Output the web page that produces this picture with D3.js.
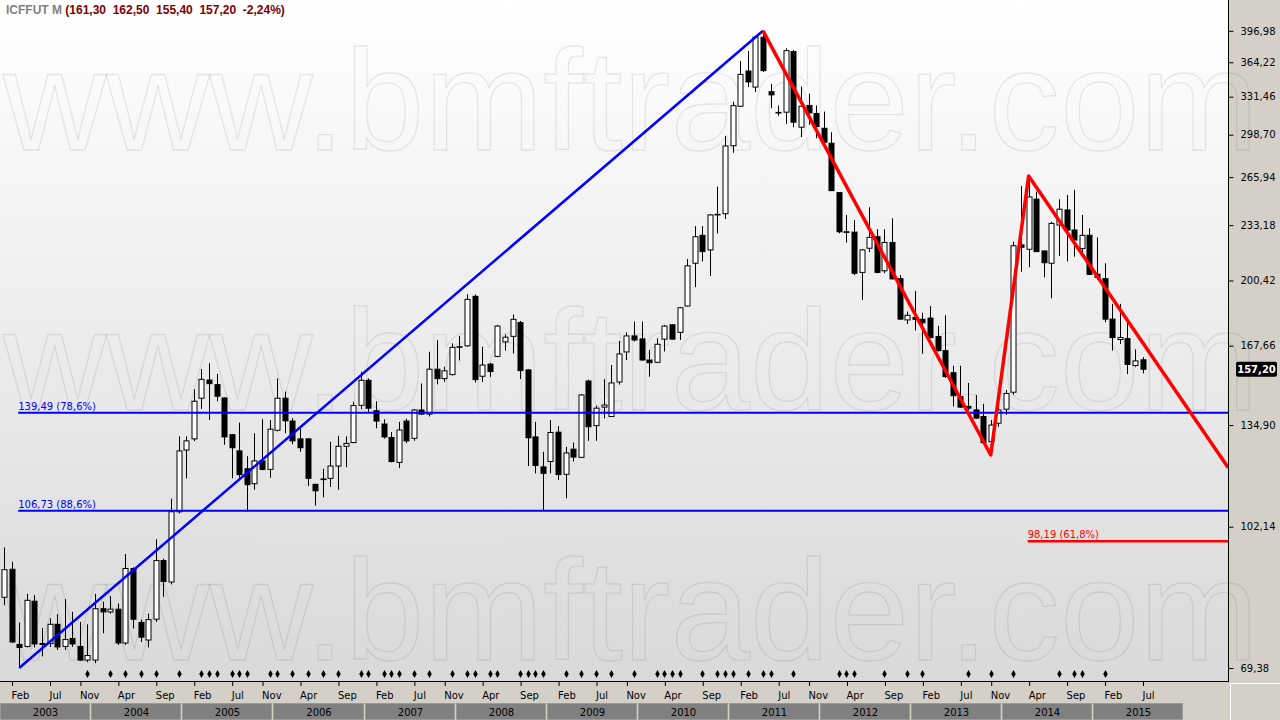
<!DOCTYPE html>
<html><head><meta charset="utf-8">
<script src="https://cdn.jsdelivr.net/npm/d3@7"></script>
<style>html,body{margin:0;padding:0;background:#d4d0c8;overflow:hidden}svg{display:block}</style>
</head><body><svg id="c" width="1280" height="720"></svg>
<script>
// ---- data (monthly bars, index 0 = Jan 2003) ----
const openV = [
 84.2, 90.9, 74.0, 73.6, 83.3, 74.0, 74.2, 78.2, 73.6, 75.2,
 73.6, 70.9, 70.9, 81.6, 80.9, 81.5, 74.3, 91.1, 78.6, 74.9,
 79.3, 93.1, 87.8, 106.4, 126.0, 129.9, 145.2, 152.6, 150.7, 145.3,
 131.4, 125.7, 119.7, 114.9, 122.3, 119.5, 133.0, 145.2, 136.4, 129.9,
 129.9, 114.7, 116.2, 116.6, 120.6, 127.3, 128.6, 142.4, 152.5, 140.3,
 135.3, 130.4, 121.8, 136.4, 130.1, 140.6, 139.0, 157.2, 153.2, 154.9,
 166.9, 167.6, 191.9, 154.2, 159.4, 162.8, 169.4, 172.0, 178.6, 156.9,
 130.6, 120.3, 122.1, 132.3, 117.9, 126.3, 123.5, 152.2, 134.7, 141.7,
 138.1, 151.8, 164.8, 172.2, 170.8, 161.2, 160.2, 170.7, 177.5, 173.9,
 186.9, 210.1, 226.8, 217.9, 239.8, 240.6, 289.8, 322.9, 355.6, 340.3,
 390.0, 336.0, 317.5, 317.7, 375.0, 304.9, 323.6, 316.6, 304.0, 291.8,
 254.9, 229.0, 228.8, 204.9, 218.9, 225.9, 205.8, 222.4, 201.4, 179.9,
 181.1, 180.2, 180.8, 171.9, 165.4, 155.7, 145.8, 142.0, 140.6, 138.1,
 128.9, 135.6, 140.9, 147.6, 220.9, 218.3, 250.4, 217.3, 210.1, 233.3,
 243.1, 230.1, 218.8, 226.8, 203.9, 201.4, 180.3, 170.5, 170.9, 158.8,
 161.3];
const highV = [
 96.5, 92.8, 78.6, 85.0, 84.7, 77.4, 79.5, 80.4, 83.8, 80.9,
 78.7, 78.2, 85.0, 83.2, 84.5, 82.8, 94.8, 91.4, 79.2, 80.5,
 98.7, 93.6, 110.3, 130.8, 130.8, 148.8, 157.3, 159.8, 155.2, 145.6,
 131.6, 135.8, 123.9, 131.9, 137.1, 136.8, 153.3, 147.9, 137.5, 133.5,
 130.2, 114.9, 119.7, 128.9, 131.0, 130.8, 143.8, 156.1, 153.3, 144.0,
 137.1, 132.4, 136.1, 137.3, 141.0, 151.2, 164.9, 170.3, 158.3, 168.7,
 172.2, 193.0, 192.9, 167.2, 160.0, 177.5, 172.9, 182.6, 179.4, 157.2,
 136.1, 125.4, 136.8, 134.5, 127.1, 128.6, 146.8, 152.8, 142.3, 153.0,
 159.0, 169.8, 173.9, 179.1, 179.1, 165.7, 171.1, 177.5, 177.8, 186.3,
 212.5, 232.6, 232.6, 240.4, 259.2, 297.6, 327.0, 365.5, 375.7, 390.9,
 396.98, 343.3, 323.6, 378.4, 376.7, 340.7, 334.2, 323.6, 318.2, 300.7,
 255.2, 239.8, 236.5, 218.5, 244.9, 230.6, 230.6, 237.6, 203.4, 184.1,
 194.8, 183.5, 186.9, 177.0, 182.2, 158.7, 158.7, 151.4, 146.5, 143.0,
 136.8, 143.3, 148.5, 222.9, 259.6, 266.8, 255.6, 217.5, 235.4, 250.3,
 253.3, 256.8, 239.8, 231.2, 225.5, 210.1, 188.0, 188.0, 178.8, 166.0,
 162.5];
const lowV = [
 82.4, 74.3, 69.38, 73.4, 73.4, 71.6, 73.5, 72.9, 72.9, 73.5,
 70.7, 70.5, 70.3, 76.3, 80.5, 73.9, 73.9, 77.3, 74.5, 73.4,
 78.7, 84.3, 87.2, 105.9, 116.6, 129.1, 141.0, 136.8, 144.0, 127.8,
 116.6, 116.8, 106.4, 113.0, 119.2, 116.8, 132.6, 131.9, 128.0, 125.4,
 114.2, 108.2, 110.7, 113.9, 113.0, 120.2, 128.4, 141.0, 139.7, 133.7,
 130.0, 121.8, 119.9, 128.4, 129.2, 138.8, 138.1, 150.8, 151.9, 154.5,
 161.0, 167.2, 151.6, 151.8, 153.9, 162.5, 165.4, 164.1, 153.0, 120.6,
 118.2, 106.6, 118.2, 116.1, 110.4, 122.1, 123.3, 129.2, 129.2, 137.4,
 138.0, 150.7, 161.2, 169.6, 161.0, 154.0, 159.8, 165.0, 170.5, 170.3,
 186.7, 196.8, 211.1, 202.9, 228.0, 237.1, 284.3, 322.6, 340.3, 335.6,
 354.7, 321.1, 314.6, 307.6, 304.9, 296.7, 306.8, 295.8, 292.0, 256.0,
 228.0, 222.3, 203.4, 190.0, 216.6, 204.4, 204.4, 201.0, 180.0, 177.9,
 174.8, 164.0, 171.1, 165.0, 153.5, 142.0, 141.5, 140.6, 137.2, 128.5,
 124.3, 134.3, 138.8, 146.6, 205.3, 207.8, 216.7, 202.2, 190.9, 214.3,
 211.1, 213.9, 213.9, 203.4, 201.0, 178.8, 165.4, 168.4, 155.1, 158.1,
 155.4];
const closeV = [
 90.8, 74.5, 73.4, 83.5, 74.1, 74.2, 78.2, 73.5, 75.0, 74.1,
 70.9, 71.8, 81.6, 80.9, 81.5, 74.3, 91.1, 79.3, 75.5, 79.2,
 93.1, 87.9, 106.4, 125.7, 129.2, 144.0, 152.9, 151.1, 146.0, 130.6,
 126.8, 117.8, 114.6, 122.3, 119.5, 133.4, 145.2, 136.5, 129.2, 126.8,
 116.6, 112.7, 116.4, 120.6, 127.3, 128.3, 142.3, 152.5, 141.3, 136.4,
 130.6, 122.1, 133.1, 129.2, 140.6, 139.0, 157.2, 153.2, 156.5, 166.9,
 167.2, 190.3, 152.8, 159.0, 156.2, 176.9, 171.6, 180.2, 156.6, 130.3,
 120.8, 118.2, 132.2, 117.8, 125.0, 123.6, 146.5, 134.3, 141.3, 142.5,
 151.4, 163.9, 172.2, 170.3, 161.2, 160.0, 168.3, 176.9, 170.7, 186.0,
 208.6, 225.9, 216.9, 239.8, 240.2, 289.6, 323.4, 352.3, 345.1, 390.2,
 356.0, 333.1, 317.0, 376.0, 309.1, 322.9, 317.1, 305.4, 292.6, 256.3,
 229.0, 228.8, 204.4, 217.9, 225.5, 204.9, 222.4, 201.3, 180.3, 182.2,
 180.2, 178.5, 171.4, 165.4, 154.1, 146.2, 141.7, 141.3, 137.5, 128.6,
 134.9, 140.6, 147.1, 220.4, 219.5, 251.9, 216.9, 210.4, 234.3, 243.6,
 230.1, 223.9, 226.8, 203.8, 202.2, 180.3, 171.4, 171.4, 159.3, 160.8,
 157.2];
const monthTickIdx = [1,6,10,15,20,25,30,34,39,44,49,54,58,63,68,73,78,82,87,92,97,102,106,111,116,121,126,130,135,140,145,150];
const monthTickLabels = ["Feb","Jul","Nov","Apr","Sep","Feb","Jul","Nov","Apr","Sep","Feb","Jul","Nov","Apr","Sep","Feb","Jul","Nov","Apr","Sep","Feb","Jul","Nov","Apr","Sep","Feb","Jul","Nov","Apr","Sep","Feb","Jul"];
const yearLabels = ["2003","2004","2005","2006","2007","2008","2009","2010","2011","2012","2013","2014","2015"];
const yTickValues = [69.38,102.14,134.90,167.66,200.42,233.18,265.94,298.70,331.46,364.22,396.98];
const markerIdx = [11,14,16,18,20,23,26,27,28,30,31,32,35,36,38,40,42,44,47,48,50,51,52,54,56,59,61,62,64,65,68,69,70,71,74,76,78,80,83,86,87,88,89,92,94,95,96,98,100,101,104,110,111,112,116,119,121,127,130,133,139,141,142,145];
const blueTrend = [{i:2, v:69.38},{i:100, v:396.98}];
const redZigzag = [{i:100, v:396.98},{i:130, v:124.3},{i:135, v:266.8},{i:161.3, v:120.0}];
const fibValues = [139.49, 106.73, 98.19];
const fibLabels = ["139,49 (78,6%)", "106,73 (88,6%)", "98,19 (61,8%)"];
const fibStartIdx = [2, 2, 135];
const titleSymbol = "ICFFUT M";
const titleValues = "(161,30  162,50  155,40  157,20  -2,24%)";
const lastClose = 157.20;

// ---- layout ----
const W = 1280, H = 720, PR = 1228, PB = 681;
const svg = d3.select("#c");
const x = d3.scaleLinear().domain([0, 150]).range([4, 1142.5]);
const y = d3.scaleLog().domain([69.38, 396.98]).range([668, 30.8]);
const fmt = v => d3.format(".2f")(v).replace(".", ",");

const defs = svg.append("defs");
const grad = defs.append("linearGradient").attr("id","bg").attr("x1",0).attr("y1",0).attr("x2",0).attr("y2",1);
grad.append("stop").attr("offset","0%").attr("stop-color","#ffffff");
grad.append("stop").attr("offset","100%").attr("stop-color","#d9d9d9");
defs.append("clipPath").attr("id","clip").append("rect").attr("x",0).attr("y",0).attr("width",PR).attr("height",PB);

svg.append("rect").attr("x",0).attr("y",0).attr("width",PR).attr("height",PB).attr("fill","url(#bg)");
svg.append("rect").attr("x",PR).attr("y",0).attr("width",W-PR).attr("height",H).attr("fill","#d4d0c8");

// watermark
[150, 410, 660].forEach(by => {
  svg.append("text").attr("x",3).attr("y",by)
    .attr("font-family","Liberation Sans, Arial, sans-serif").attr("font-size",143)
    .attr("fill","none").attr("stroke","#000").attr("stroke-opacity",0.085).attr("stroke-width",1.3)
    .text("www.bmftrader.com");
});

const plot = svg.append("g").attr("clip-path","url(#clip)");

// candles
const bars = d3.range(openV.length).map(i => ({i, o:openV[i], h:highV[i], l:lowV[i], c:closeV[i]}));
plot.append("g").selectAll("line").data(bars).join("line")
  .attr("x1", d => Math.round(x(d.i)) + 0.5).attr("x2", d => Math.round(x(d.i)) + 0.5)
  .attr("y1", d => y(d.h)).attr("y2", d => y(d.l))
  .attr("stroke","#000").attr("stroke-width",1);
plot.append("g").selectAll("rect").data(bars).join("rect")
  .attr("x", d => Math.round(x(d.i)) - 2)
  .attr("width", 5)
  .attr("y", d => y(Math.max(d.o, d.c)))
  .attr("height", d => Math.max(0.6, Math.abs(y(d.o) - y(d.c))))
  .attr("fill", d => d.c >= d.o ? "#fff" : "#000")
  .attr("stroke","#000").attr("stroke-width",1);

// markers
plot.append("g").selectAll("path").data(markerIdx).join("path")
  .attr("transform", d => `translate(${Math.round(x(d))+0.5},674)`)
  .attr("d", d3.symbol().type(d3.symbolDiamond).size(18))
  .attr("fill","#000");

// fib lines
const fibColors = ["#0000ff","#0000ff","#ff0000"];
fibValues.forEach((v, k) => {
  const yy = y(v);
  plot.append("line").attr("x1", x(fibStartIdx[k]) - 1).attr("x2", PR)
    .attr("y1", yy).attr("y2", yy)
    .attr("stroke", fibColors[k]).attr("stroke-width", k === 2 ? 2.5 : 2);
  plot.append("text").attr("x", x(fibStartIdx[k]) - 1).attr("y", yy - 3)
    .attr("font-family","DejaVu Sans, Verdana, sans-serif").attr("font-size",10)
    .attr("fill", fibColors[k]).text(fibLabels[k]);
});

// trend lines
const ln = d3.line().x(d => x(d.i)).y(d => y(d.v));
plot.append("path").datum(blueTrend).attr("d", ln).attr("fill","none")
  .attr("stroke","#0000ff").attr("stroke-width",2.5);
plot.append("path").datum(redZigzag).attr("d", ln).attr("fill","none")
  .attr("stroke","#ff0000").attr("stroke-width",3.5).attr("stroke-linejoin","round");

// title
const t = svg.append("text").attr("x",6).attr("y",14).attr("xml:space","preserve")
  .style("white-space","pre")
  .attr("font-family","Liberation Sans, Arial, sans-serif").attr("font-size",12).attr("font-weight","bold");
t.append("tspan").attr("fill","#808080").text(titleSymbol + " ");
t.append("tspan").attr("fill","#800000").text(titleValues);

// right axis
const yAxis = d3.axisRight(y).tickValues(yTickValues).tickSize(5).tickPadding(7).tickFormat(fmt);
const ya = svg.append("g").attr("transform",`translate(${PR+0.5},0)`).call(yAxis);
ya.select(".domain").remove();
ya.selectAll(".tick line").attr("stroke","#000");
ya.selectAll(".tick text").attr("font-family","DejaVu Sans, Verdana, sans-serif").attr("font-size",10).attr("fill","#000");

// last value highlight
const ly = y(lastClose);
svg.append("rect").attr("x",1236).attr("y",ly-7.5).attr("width",41).attr("height",15).attr("rx",2).attr("fill","#000");
svg.append("text").attr("x",1256.5).attr("y",ly+4).attr("text-anchor","middle")
  .attr("font-family","DejaVu Sans, Verdana, sans-serif").attr("font-size",10).attr("font-weight","bold")
  .attr("fill","#fff").text(fmt(lastClose));

// bottom band
svg.append("rect").attr("x",0).attr("y",PB).attr("width",PR+1).attr("height",H-PB).attr("fill","#d4d0c8");
const xAxis = d3.axisBottom(x).tickValues(monthTickIdx).tickSize(4).tickPadding(3)
  .tickFormat((d, k) => monthTickLabels[k]);
const xa = svg.append("g").attr("transform",`translate(0.5,${PB+1})`).call(xAxis);
xa.select(".domain").remove();
xa.selectAll(".tick line").attr("stroke","#000");
xa.selectAll(".tick text").attr("text-anchor","start").attr("x",-1).attr("dy","0.95em")
  .attr("font-family","DejaVu Sans, Verdana, sans-serif").attr("font-size",10).attr("fill","#000");

// year boxes
const yg = svg.append("g");
yearLabels.forEach((lab, k) => {
  const x0 = Math.round(x(12*k - 0.5));
  const x1 = Math.min(PR, Math.round(x(12*k + 11.5)));
  yg.append("rect").attr("x", x0 + 0.5).attr("y", 703.5).attr("width", x1 - x0 - 2).attr("height", 16)
    .attr("fill","#808080").attr("stroke","#9a9a9a").attr("stroke-width",1);
  yg.append("text").attr("x",(x0 + x1)/2).attr("y",716).attr("text-anchor","middle")
    .attr("font-family","DejaVu Sans, Verdana, sans-serif").attr("font-size",10).attr("fill","#000").text(lab);
});

// borders
svg.append("line").attr("x1",0).attr("x2",PR+1).attr("y1",PB+0.5).attr("y2",PB+0.5).attr("stroke","#000");
svg.append("line").attr("x1",PR+0.5).attr("x2",PR+0.5).attr("y1",0).attr("y2",PB+1).attr("stroke","#000");
svg.append("line").attr("x1",PR+2).attr("x2",W).attr("y1",PB+2.5).attr("y2",PB+2.5).attr("stroke","#fff");
svg.append("line").attr("x1",PR+2.5).attr("x2",PR+2.5).attr("y1",PB+2).attr("y2",H).attr("stroke","#fff");
</script></body></html>
